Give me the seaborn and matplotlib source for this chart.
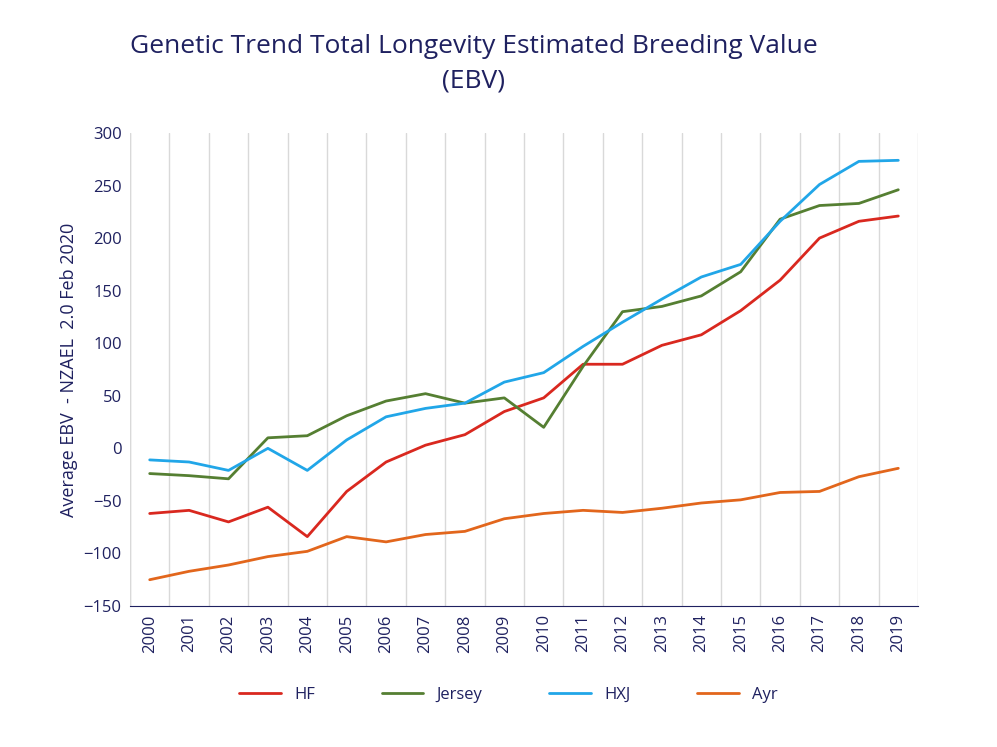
import matplotlib
matplotlib.use('Agg')
import matplotlib.pyplot as plt
import seaborn as sns
import pandas as pd
import numpy as np

years = [str(y) for y in range(2000, 2020)]
hf = [-62, -59, -70, -56, -84, -41, -13, 3, 13, 35, 48, 80, 80, 98, 108, 131, 160, 200, 216, 221]
jersey = [-24, -26, -29, 10, 12, 31, 45, 52, 43, 48, 20, 78, 130, 135, 145, 168, 218, 231, 233, 246]
hxj = [-11, -13, -21, 0, -21, 8, 30, 38, 43, 63, 72, 97, 120, 142, 163, 175, 216, 251, 273, 274]
ayr = [-125, -117, -111, -103, -98, -84, -89, -82, -79, -67, -62, -59, -61, -57, -52, -49, -42, -41, -27, -19]

COLORS = {'HF': '#D9281F', 'Jersey': '#557F32', 'HXJ': '#21A6E8', 'Ayr': '#E2661C'}
NAVY = '#1F2160'

df = pd.DataFrame({'Year': years, 'HF': hf, 'Jersey': jersey, 'HXJ': hxj, 'Ayr': ayr})
long_df = df.melt(id_vars='Year', var_name='Breed', value_name='EBV')
long_df['pos'] = long_df['Year'].map({y: i for i, y in enumerate(years)})

sns.set_style('white')
plt.rcParams['font.family'] = ['Open Sans', 'DejaVu Sans']

fig = plt.figure(figsize=(9.97, 7.47), dpi=100)
ax = fig.add_axes([130 / 997, 1 - 606 / 747, 788 / 997, 473 / 747])

sns.lineplot(data=long_df, x='pos', y='EBV', hue='Breed', palette=COLORS,
             linewidth=2, ax=ax, legend=False)

ax.set_xlim(-0.5, len(years) - 0.5)
ax.set_ylim(-150, 300)
ax.set_yticks(range(-150, 301, 50))
ax.set_xticks(range(len(years)))
ax.set_xticklabels(years, rotation=90)
ax.set_xticks(np.arange(-0.5, len(years), 1), minor=True)
ax.grid(which='minor', axis='x', color='#D9D9D9', linewidth=1)
ax.tick_params(axis='x', which='minor', length=6, color='#BFBFBF', direction='out')
ax.tick_params(axis='both', which='major', labelsize=12, colors=NAVY, length=0, pad=6)
for s in ['top', 'right', 'left']:
    ax.spines[s].set_visible(False)
ax.spines['bottom'].set_color(NAVY)
ax.axvline(-0.5, color='#D9D9D9', linewidth=1)

ax.set_xlabel('')
ax.set_ylabel('Average EBV  - NZAEL  2.0 Feb 2020', fontsize=13, color=NAVY)

fig.text(0.475, 0.915, 'Genetic Trend Total Longevity Estimated Breeding Value\n(EBV)',
         ha='center', va='center', fontsize=19, color=NAVY, linespacing=1.5)

handles = [plt.Line2D([], [], color=COLORS[b], linewidth=2) for b in ['HF', 'Jersey', 'HXJ', 'Ayr']]
fig.legend(handles, ['HF', 'Jersey', 'HXJ', 'Ayr'], loc='center', bbox_to_anchor=(0.51, 0.07),
           ncol=4, frameon=False, fontsize=12, labelcolor=NAVY, columnspacing=4, handlelength=2.5)

plt.savefig('out.png', dpi=100)
plt.close()
